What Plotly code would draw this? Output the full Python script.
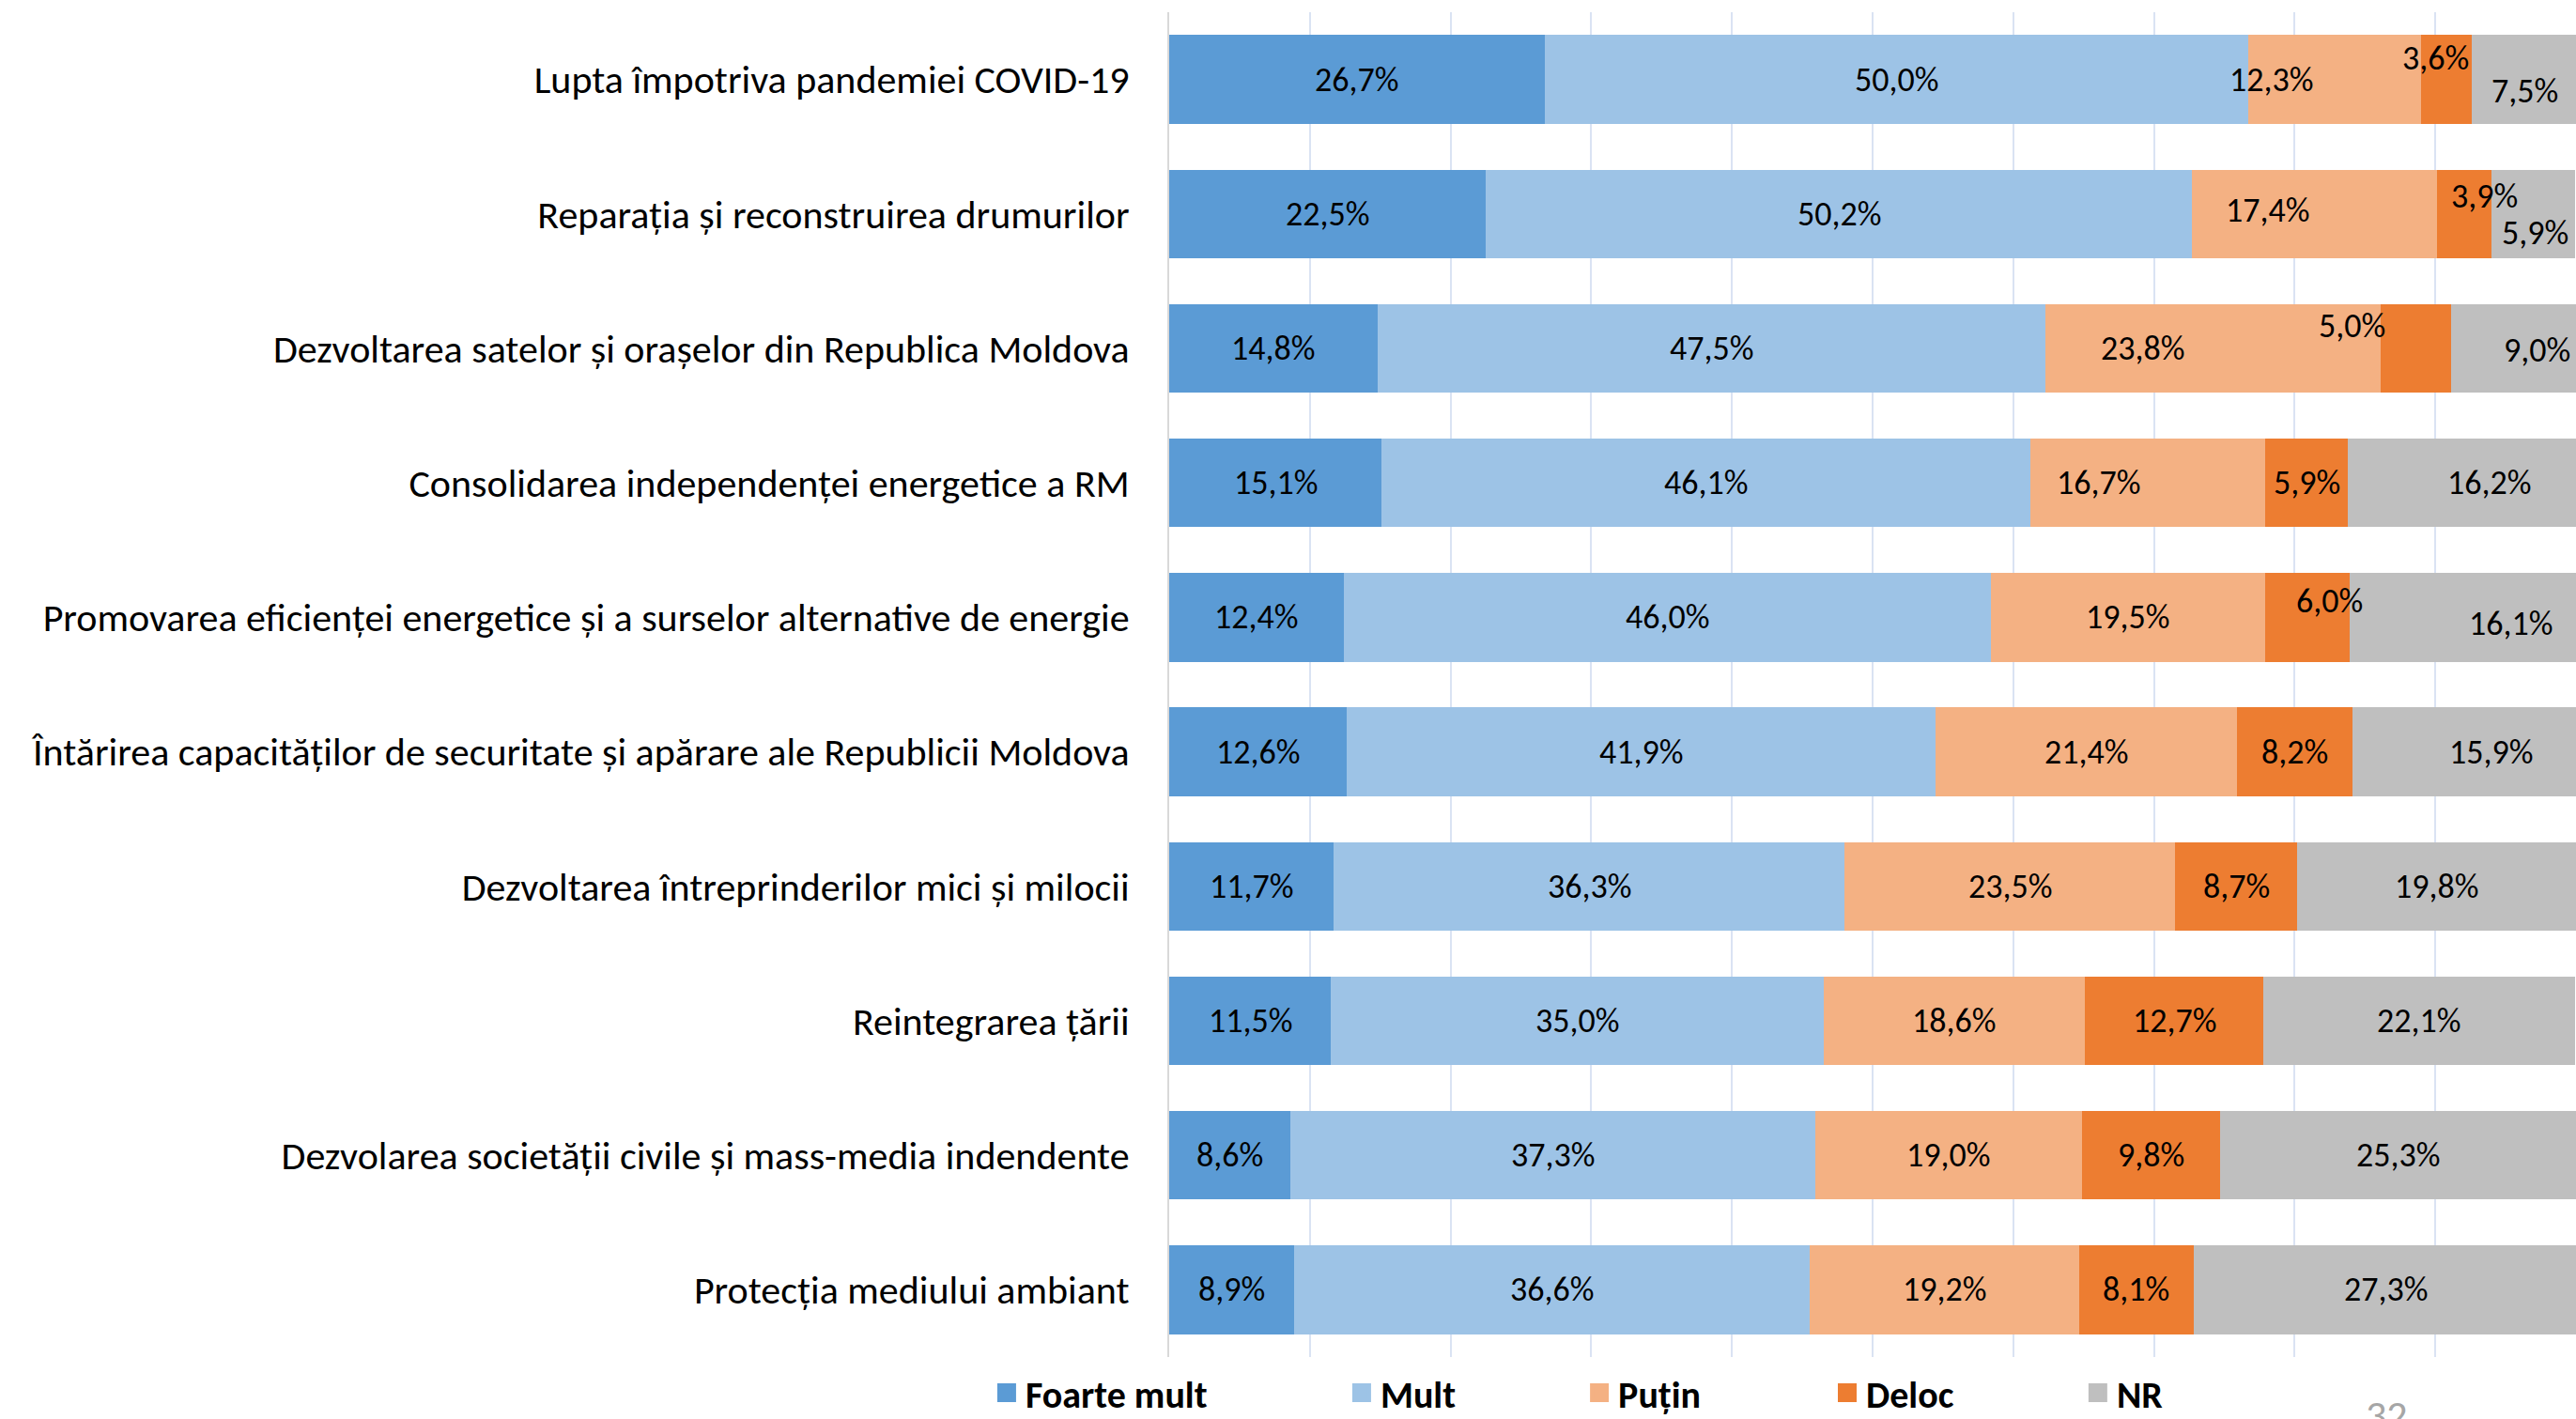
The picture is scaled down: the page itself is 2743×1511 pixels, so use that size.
import plotly.graph_objects as go

categories = [
    "Lupta împotriva pandemiei COVID-19",
    "Reparația și reconstruirea drumurilor",
    "Dezvoltarea satelor și orașelor din Republica Moldova",
    "Consolidarea independenței energetice a RM",
    "Promovarea eficienței energetice și a surselor alternative de energie",
    "Întărirea capacităților de securitate și apărare ale Republicii Moldova",
    "Dezvoltarea întreprinderilor mici și milocii",
    "Reintegrarea țării",
    "Dezvolarea societății civile și mass-media indendente",
    "Protecția mediului ambiant",
]
series_names = ["Foarte mult", "Mult", "Puțin", "Deloc", "NR"]
foarte_mult = [26.7, 22.5, 14.8, 15.1, 12.4, 12.6, 11.7, 11.5, 8.6, 8.9]
mult = [50.0, 50.2, 47.5, 46.1, 46.0, 41.9, 36.3, 35.0, 37.3, 36.6]
putin = [12.3, 17.4, 23.8, 16.7, 19.5, 21.4, 23.5, 18.6, 19.0, 19.2]
deloc = [3.6, 3.9, 5.0, 5.9, 6.0, 8.2, 8.7, 12.7, 9.8, 8.1]
nr = [7.5, 5.9, 9.0, 16.2, 16.1, 15.9, 19.8, 22.1, 25.3, 27.3]
page_number = "32"

series_values = [foarte_mult, mult, putin, deloc, nr]
colors = ["#5B9BD5", "#9DC3E6", "#F4B183", "#ED7D31", "#BFBFBF"]

# manual label nudges (pixels), as in the original
label_shift = {
    (0, 2): (-68, 0), (0, 3): (-12, 23), (0, 4): (0, -12),
    (1, 2): (-50, 4), (1, 3): (22, 19), (1, 4): (2, -20),
    (2, 2): (-75, 0), (2, 3): (-68, 24), (2, 4): (24, -2),
    (3, 2): (-52, 0), (3, 4): (29, 0),
    (4, 3): (24, 17), (4, 4): (51, -7),
    (5, 4): (29, 0),
}

FONT = "Calibri, Carlito, Lato, sans-serif"
legend_x = [0.3835, 0.5213, 0.6136, 0.7098, 0.8071]

W, H = 2743, 1511
ML, MR, MT, MB = 1245, 0, 13, 66
plot_h = H - MT - MB

fig = go.Figure()
for k, (name, vals, col) in enumerate(zip(series_names, series_values, colors)):
    lname = "legend" if k == 0 else f"legend{k+1}"
    fig.add_trace(go.Bar(
        y=categories, x=vals, name=name, orientation="h",
        marker=dict(color=col, line=dict(width=0)),
        legend=lname, legendgroup=name, hoverinfo="x+name", showlegend=False,
    ))
    # legend entry with a larger square swatch
    fig.add_trace(go.Scatter(
        x=[None], y=[None], mode="markers", name=name,
        marker=dict(symbol="square", size=16, color=col, line=dict(width=4, color=col)),
        legend=lname, legendgroup=name, showlegend=True, hoverinfo="skip",
    ))

annotations = []
for i, cat in enumerate(categories):
    cum = 0.0
    for k, vals in enumerate(series_values):
        v = vals[i]
        mid = cum + v / 2
        cum += v
        dx, dy = label_shift.get((i, k), (0, 0))
        annotations.append(dict(
            x=mid, y=cat, xref="x", yref="y",
            text=f"{v:.1f}%".replace(".", ","),
            showarrow=False, xshift=dx, yshift=dy,
            font=dict(family=FONT, size=36, color="#000000"),
        ))

annotations.append(dict(
    x=(2541 - ML) / (W - ML), y=-(1478 - (H - MB)) / plot_h,
    xref="paper", yref="paper", xanchor="center", yanchor="top",
    text=page_number, showarrow=False,
    font=dict(family=FONT, size=44, color="#A6A6A6"),
))

layout_legends = {}
for k in range(5):
    lname = "legend" if k == 0 else f"legend{k+1}"
    layout_legends[lname] = dict(
        x=legend_x[k], y=1 - 1483 / H, xref="container", yref="container",
        xanchor="left", yanchor="middle",
        orientation="h", bgcolor="rgba(0,0,0,0)", visible=True,
        font=dict(family=FONT, size=40, color="#000000", weight="bold"),
    )

fig.update_layout(
    width=W, height=H,
    barmode="stack", bargap=0.34,
    paper_bgcolor="white", plot_bgcolor="white",
    margin=dict(l=ML, r=MR, t=MT, b=MB, autoexpand=False),
    annotations=annotations,
    showlegend=True,
    font=dict(family=FONT, color="#000000"),
    **layout_legends,
)
fig.update_xaxes(
    range=[0, 100], dtick=10, showticklabels=False, showgrid=True,
    gridcolor="#DAE3F3", gridwidth=1.5, zeroline=False, showline=False,
)
fig.update_yaxes(
    categoryorder="array", categoryarray=categories, autorange="reversed",
    showline=True, linecolor="#D9D9D9", linewidth=2, showgrid=False,
    ticks="", ticklabelstandoff=32,
    tickfont=dict(family=FONT, size=42, color="#000000"),
)

fig.write_html(
    "out.html",
    config={"displayModeBar": False},
    post_script="document.body.style.margin='0px';document.body.style.overflow='hidden';",
)
